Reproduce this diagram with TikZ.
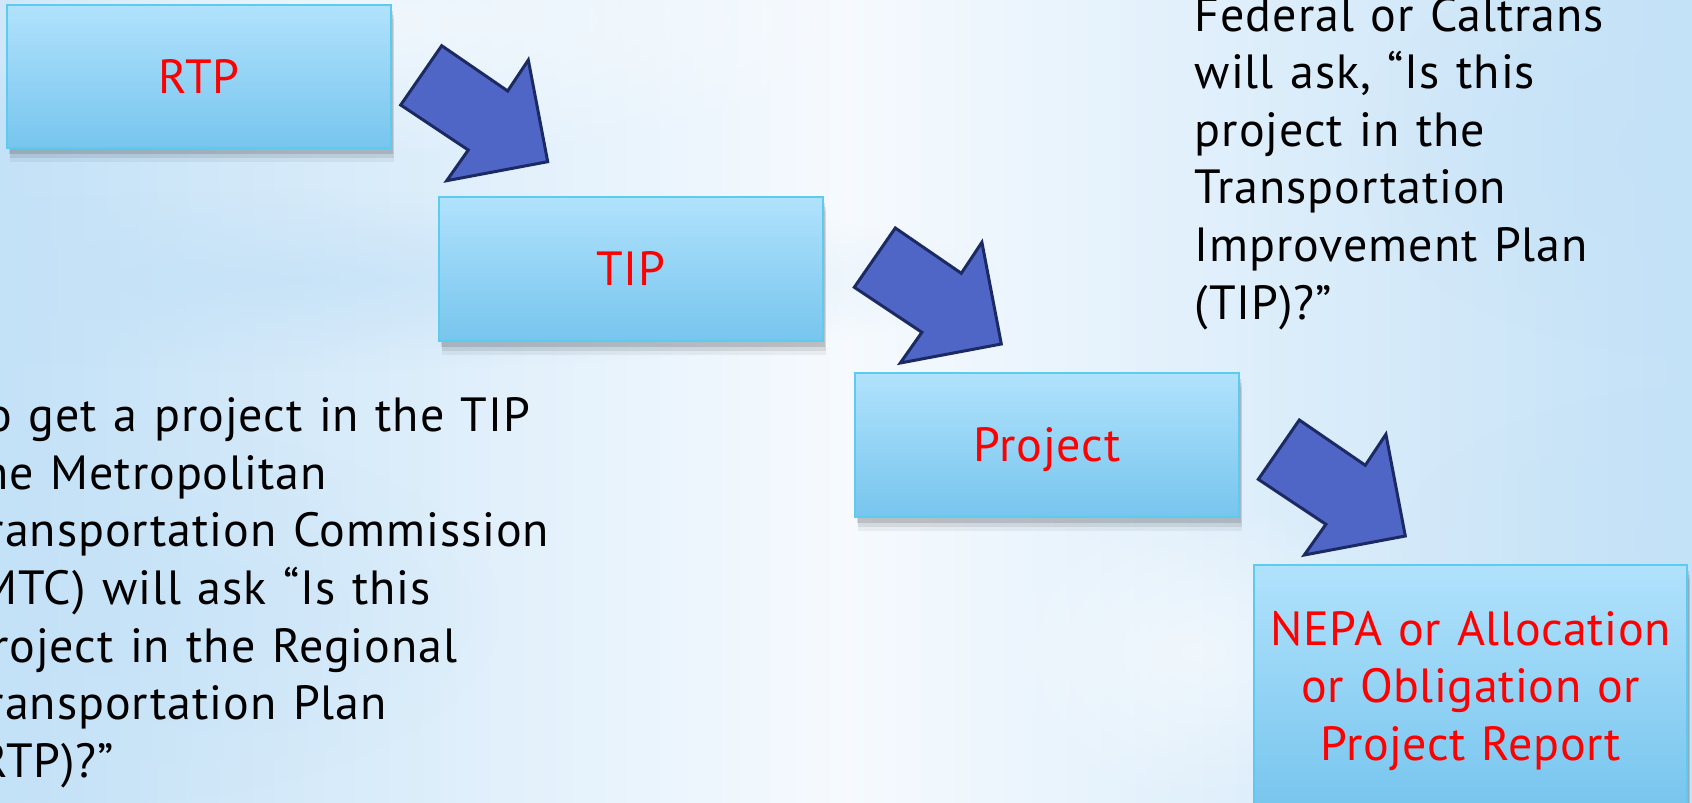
\documentclass[tikz,border=0pt]{standalone}
\usepackage{fontspec}
\setmainfont{PT Sans}[LetterSpace=2, WordSpace=1.2]
\usetikzlibrary{fadings}
\definecolor{bgblue}{HTML}{C3E1F7}
\definecolor{bgwhite}{HTML}{F6FAFE}
\definecolor{boxtop}{HTML}{B1E2FC}
\definecolor{boxmid}{HTML}{A2DAF8}
\definecolor{boxbot}{HTML}{77C5EE}
\definecolor{boxline}{HTML}{5CCBF0}
\definecolor{arrowfill}{HTML}{4F66C6}
\definecolor{arrowline}{HTML}{1C2A63}
\definecolor{labelred}{HTML}{FF0000}
\newcommand\slidefont{\fontsize{48}{57.6}\selectfont}
\tikzfading[name=blobfade, inner color=transparent!0, outer color=transparent!100]
\tikzset{
  stepbox/.style={draw=boxline, line width=2pt, top color=boxtop, middle color=boxmid,
    bottom color=boxbot, text=labelred, font=\slidefont, inner sep=0pt,
    text height=33.6pt, text depth=0pt,
    preaction={fill=black, opacity=0.05, transform canvas={shift={(3pt,-14pt)}}},
    preaction={fill=black, opacity=0.08, transform canvas={shift={(3pt,-10pt)}}},
    preaction={fill=black, opacity=0.12, transform canvas={shift={(2pt,-6pt)}}}},
  blockarrow/.style={draw=arrowline, fill=arrowfill, line width=3pt, line join=miter},
  bodytext/.style={font=\slidefont, text=black, inner sep=0pt, anchor=base west},
  blob/.style={fill=bgblue, path fading=blobfade}
}
\begin{document}
\begin{tikzpicture}[x=1pt,y=1pt]
\useasboundingbox (0,0) rectangle (1692,-803);
\clip (0,0) rectangle (1692,-803);
% background
\shade[left color=bgblue, right color=bgblue, middle color=bgwhite] (0,0) rectangle (1692,-803);
\fill[blob, opacity=0.7] (-400,-190) rectangle (1000,-370);
\fill[blob, opacity=0.5] (-300,-420) rectangle (500,-803);
\fill[blob, opacity=0.7] (1350,60) rectangle (2100,-360);
\fill[blob, opacity=0.5] (1400,-380) rectangle (2100,-700);
\fill[white, path fading=blobfade, opacity=0.6] (-200,120) rectangle (900,-160);
\fill[white, path fading=blobfade, opacity=0.5] (1000,-500) rectangle (1400,-803);

% boxes
\node[stepbox, minimum width=384pt, minimum height=143pt] (rtp) at (199,-76.5) {RTP};
\node[stepbox, minimum width=384pt, minimum height=144pt] (tip) at (631,-268.8) {TIP};
\node[stepbox, minimum width=384.5pt, minimum height=144.6pt] (proj) at (1046.8,-445) {Project};
\node[stepbox, minimum width=433pt, minimum height=243pt] (nepa) at (1470.8,-686) {};
\node[bodytext, anchor=base, text=labelred] (nepatext) at (1470.8,-645)
  {\addfontfeatures{LetterSpace=1.2}\begin{tabular}[t]{@{}c@{}}NEPA or Allocation\\or Obligation or\\Project Report\end{tabular}};

% block arrows
\foreach \dx/\dy in {0/0, 453.6/182.3, 857.6/374.3}{
  \draw[blockarrow, shift={(\dx,-\dy)}] (400.7,-105) -- (441.7,-45.7) -- (507.7,-91)
    -- (528.3,-60) -- (547.7,-161.7) -- (446.7,-180.7) -- (468.3,-150) -- cycle;
}

% text blocks
\node[bodytext] (fedq) at (1194.6,-31.2)
  {\begin{tabular}[t]{@{}l@{}}Federal or Caltrans\\will ask, “Is this\\project in the\\Transportation\\Improvement Plan\\(TIP)?”\end{tabular}};
\node[bodytext] (mtcq) at (-35,-431.7)
  {\begin{tabular}[t]{@{}l@{}}To get a project in the TIP\\the Metropolitan\\Transportation Commission\\(MTC) will ask “Is this\\project in the Regional\\Transportation Plan\\(RTP)?”\end{tabular}};
\end{tikzpicture}
\end{document}
